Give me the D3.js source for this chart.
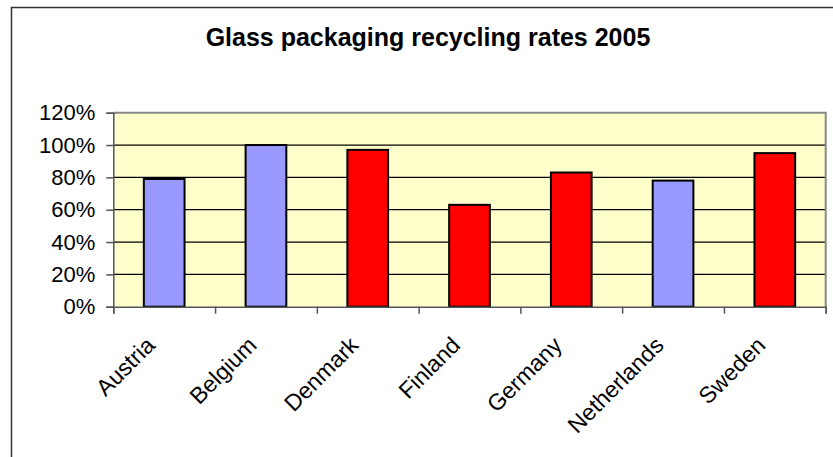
<!DOCTYPE html>
<html>
<head>
<meta charset="utf-8">
<title>Glass packaging recycling rates 2005</title>
<script src="https://d3js.org/d3.v7.min.js"></script>
<style>
  body { margin: 0; background: #fff; }
  text { font-family: "Liberation Sans", Arial, sans-serif; fill: #000; }
</style>
</head>
<body>
<script>
// data
var countries = ["Austria", "Belgium", "Denmark", "Finland", "Germany", "Netherlands", "Sweden"];
var rates = [79, 100, 97, 63, 83, 78, 95];
var groups = ["blue", "blue", "red", "red", "red", "blue", "red"];
var yTicks = [0, 20, 40, 60, 80, 100, 120];

var w = 833, h = 457;
var plotLeft = 113.3, plotRight = 825.7, plotTop = 112.7, plotBottom = 306.7;

var colour = { blue: "#9999ff", red: "#ff0000" };

var svg = d3.select("body").append("svg")
  .attr("width", w)
  .attr("height", h);

// outer chart frame (only top and left edge visible in the crop)
svg.append("path")
  .attr("d", "M11.5," + h + "V7.5H" + w)
  .attr("fill", "none")
  .attr("stroke", "#333")
  .attr("stroke-width", 1.5);

svg.append("text")
  .attr("x", 428)
  .attr("y", 46)
  .attr("text-anchor", "middle")
  .attr("font-size", "25px")
  .attr("font-weight", "bold")
  .text("Glass packaging recycling rates 2005");

var x = d3.scaleBand()
  .domain(countries)
  .range([plotLeft, plotRight])
  .paddingInner(0.6)
  .paddingOuter(0.3);

var xEdge = d3.scaleLinear()
  .domain([0, countries.length])
  .range([plotLeft, plotRight]);

var y = d3.scaleLinear()
  .domain([0, 120])
  .range([plotBottom, plotTop]);

// plot area
svg.append("rect")
  .attr("x", plotLeft)
  .attr("y", plotTop)
  .attr("width", plotRight - plotLeft)
  .attr("height", plotBottom - plotTop)
  .attr("fill", "#ffffcc");

// gridlines
svg.append("g")
  .selectAll("line")
  .data(yTicks.slice(1, -1))
  .enter()
  .append("line")
  .attr("x1", plotLeft)
  .attr("x2", plotRight)
  .attr("y1", function(d) { return y(d); })
  .attr("y2", function(d) { return y(d); })
  .attr("stroke", "#000")
  .attr("stroke-width", 1.2);

// plot border top/right
svg.append("path")
  .attr("d", "M" + plotLeft + "," + plotTop + "H" + plotRight + "V" + plotBottom)
  .attr("fill", "none")
  .attr("stroke", "#888")
  .attr("stroke-width", 2);

// bars
svg.selectAll("rect.bar")
  .data(rates)
  .enter()
  .append("rect")
  .attr("class", "bar")
  .attr("x", function(d, i) { return x(countries[i]); })
  .attr("y", function(d) { return y(d); })
  .attr("width", x.bandwidth())
  .attr("height", function(d) { return plotBottom - y(d); })
  .attr("fill", function(d, i) { return colour[groups[i]]; })
  .attr("stroke", "#000")
  .attr("stroke-width", 2);

// y axis
var yAxis = d3.axisLeft(y)
  .tickValues(yTicks)
  .tickSize(7)
  .tickPadding(11)
  .tickFormat(function(d) { return d + "%"; });

var gy = svg.append("g")
  .attr("transform", "translate(" + plotLeft + ",0)")
  .call(yAxis);
gy.select(".domain").attr("stroke", "#555").attr("stroke-width", 1.5);
gy.selectAll(".tick line").attr("stroke", "#555").attr("stroke-width", 1.5);
gy.selectAll(".tick text")
  .attr("font-size", "22px")
  .attr("font-family", "Liberation Sans, Arial, sans-serif")
  .attr("fill", "#000");

// x axis: ticks on category boundaries
var xAxis = d3.axisBottom(xEdge)
  .tickValues(d3.range(countries.length + 1))
  .tickSize(7)
  .tickFormat("");

var gx = svg.append("g")
  .attr("transform", "translate(0," + plotBottom + ")")
  .call(xAxis);
gx.select(".domain").attr("stroke", "#555").attr("stroke-width", 1.5);
gx.selectAll(".tick line").attr("stroke", "#555").attr("stroke-width", 1.5);

// rotated category labels
svg.append("g")
  .selectAll("text")
  .data(countries)
  .enter()
  .append("text")
  .attr("text-anchor", "end")
  .attr("font-size", "23px")
  .attr("transform", function(d) {
    var cx = x(d) + x.bandwidth() / 2;
    return "translate(" + (cx - 8) + "," + (plotBottom + 40) + ") rotate(-45)";
  })
  .text(function(d) { return d; });
</script>
</body>
</html>
